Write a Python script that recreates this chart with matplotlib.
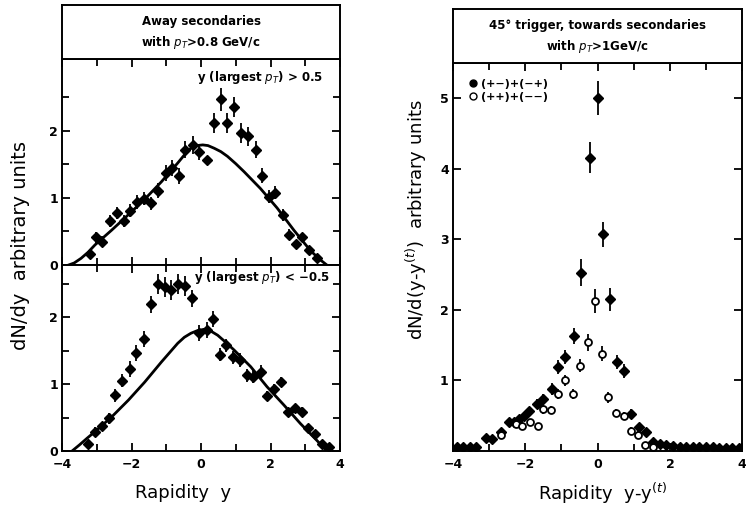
import matplotlib.pyplot as plt
from matplotlib.lines import Line2D
from matplotlib.ticker import MultipleLocator

plt.rcParams['font.family'] = ['DejaVu Sans']

# ---- left, upper panel: y(largest pT) > 0.5
top_x = [-3.19, -3.02, -2.84, -2.62, -2.41, -2.22, -2.03, -1.83, -1.64, -1.43, -1.24, -1.02,
         -0.83, -0.62, -0.46, -0.24, -0.05, 0.16, 0.38, 0.57, 0.76, 0.95, 1.14, 1.36, 1.57,
         1.76, 1.95, 2.14, 2.35, 2.54, 2.72, 2.92, 3.11, 3.33]
top_y = [0.17, 0.41, 0.35, 0.66, 0.77, 0.65, 0.81, 0.94, 0.99, 0.92, 1.11, 1.37,
         1.45, 1.32, 1.72, 1.79, 1.68, 1.57, 2.11, 2.47, 2.11, 2.36, 1.97, 1.92, 1.72,
         1.33, 1.02, 1.08, 0.75, 0.45, 0.31, 0.41, 0.22, 0.10]
top_err = [0.06, 0.08, 0.08, 0.09, 0.09, 0.09, 0.10, 0.10, 0.10, 0.10, 0.11, 0.12,
           0.12, 0.12, 0.13, 0.14, 0.12, 0.06, 0.15, 0.17, 0.15, 0.15, 0.15, 0.14, 0.13,
           0.11, 0.10, 0.10, 0.09, 0.08, 0.06, 0.07, 0.06, 0.05]
# theory curve
top_curve_x = [-3.81, -3.65, -3.45, -3.25, -3.05, -2.57, -2.09, -1.62, -1.14, -0.67, -0.48,
               -0.29, -0.12, 0.05, 0.20, 0.38, 0.57, 0.76, 1.00, 1.24, 1.71, 2.19, 2.67,
               3.14, 3.40, 3.62]
top_curve_y = [0.0, 0.03, 0.10, 0.19, 0.30, 0.52, 0.75, 0.98, 1.24, 1.52, 1.64,
               1.74, 1.78, 1.79, 1.78, 1.74, 1.69, 1.62, 1.51, 1.39, 1.14, 0.85, 0.52,
               0.22, 0.09, 0.0]

# ---- left, lower panel: y(largest pT) < -0.5
bot_x = [-3.26, -3.05, -2.86, -2.65, -2.48, -2.26, -2.05, -1.86, -1.64, -1.45, -1.24, -1.05,
         -0.86, -0.65, -0.46, -0.26, -0.05, 0.17, 0.35, 0.55, 0.73, 0.93, 1.11, 1.33, 1.51,
         1.73, 1.90, 2.11, 2.30, 2.50, 2.71, 2.91, 3.08, 3.29, 3.49, 3.67]
bot_y = [0.11, 0.29, 0.37, 0.49, 0.83, 1.05, 1.23, 1.47, 1.68, 2.19, 2.50, 2.45,
         2.41, 2.50, 2.46, 2.28, 1.76, 1.81, 1.98, 1.44, 1.58, 1.40, 1.36, 1.13, 1.11,
         1.18, 0.82, 0.92, 1.03, 0.58, 0.64, 0.59, 0.35, 0.25, 0.10, 0.06]
bot_err = [0.05, 0.07, 0.07, 0.08, 0.10, 0.10, 0.12, 0.12, 0.12, 0.13, 0.15, 0.15,
           0.15, 0.15, 0.15, 0.13, 0.12, 0.12, 0.12, 0.10, 0.10, 0.10, 0.10, 0.10, 0.10,
           0.10, 0.08, 0.08, 0.08, 0.07, 0.07, 0.07, 0.06, 0.05, 0.05, 0.04]
bot_curve_x = [-3.71, -3.50, -3.28, -3.05, -2.57, -2.09, -1.62, -1.14, -0.67, -0.48,
               -0.29, -0.10, 0.10, 0.29, 0.48, 0.70, 0.95, 1.43, 1.90, 2.38, 2.86, 3.33,
               3.62]
bot_curve_y = [0.0, 0.09, 0.19, 0.29, 0.51, 0.76, 1.03, 1.33, 1.61, 1.70,
               1.76, 1.80, 1.82, 1.79, 1.73, 1.63, 1.51, 1.26, 0.96, 0.69, 0.41, 0.16,
               0.0]

# ---- right panel: 45 deg trigger, towards secondaries
fill_x = [-3.90, -3.72, -3.54, -3.36, -3.09, -2.91, -2.68, -2.45, -2.32, -2.18, -2.04, -1.91,
          -1.68, -1.50, -1.27, -1.09, -0.91, -0.65, -0.47, -0.21, 0.00, 0.16, 0.35, 0.53,
          0.74, 0.93, 1.14, 1.34, 1.54, 1.72, 1.90, 2.08, 2.27, 2.45, 2.63, 2.81, 2.99,
          3.18, 3.36, 3.54, 3.72, 3.90]
fill_y = [0.05, 0.05, 0.05, 0.06, 0.19, 0.17, 0.27, 0.41, 0.41, 0.45, 0.49, 0.57,
          0.67, 0.74, 0.88, 1.19, 1.33, 1.63, 2.53, 4.16, 5.00, 3.07, 2.15, 1.26,
          1.14, 0.52, 0.34, 0.27, 0.13, 0.10, 0.08, 0.07, 0.06, 0.06, 0.05, 0.05, 0.05,
          0.05, 0.04, 0.04, 0.04, 0.04]
fill_err = [0.02, 0.02, 0.02, 0.02, 0.04, 0.04, 0.05, 0.05, 0.05, 0.05, 0.05, 0.06,
            0.07, 0.07, 0.08, 0.10, 0.10, 0.12, 0.19, 0.22, 0.24, 0.18, 0.16, 0.10,
            0.10, 0.07, 0.06, 0.05, 0.04, 0.02, 0.02, 0.02, 0.02, 0.02, 0.02, 0.02, 0.02,
            0.02, 0.02, 0.02, 0.02, 0.02]
open_x = [-2.68, -2.27, -2.09, -1.86, -1.65, -1.50, -1.29, -1.09, -0.91, -0.68, -0.48,
          -0.27, -0.07, 0.12, 0.30, 0.52, 0.73, 0.91, 1.11, 1.32, 1.52]
open_y = [0.22, 0.38, 0.36, 0.41, 0.35, 0.59, 0.58, 0.81, 1.00, 0.81, 1.21,
          1.54, 2.12, 1.38, 0.76, 0.54, 0.50, 0.29, 0.23, 0.09, 0.06]
open_err = [0.05, 0.05, 0.05, 0.05, 0.05, 0.06, 0.06, 0.07, 0.08, 0.07, 0.09,
            0.12, 0.17, 0.11, 0.08, 0.06, 0.06, 0.05, 0.05, 0.03, 0.03]

fig = plt.figure(figsize=(7.46, 5.11), dpi=100)


def style(ax):
    for s in ax.spines.values():
        s.set_linewidth(1.4)
    ax.tick_params(which='both', direction='in', top=True, right=True, width=1.3,
                   labelsize=9, pad=3)
    ax.tick_params(axis='x', pad=5)
    ax.tick_params(which='major', length=6)
    ax.tick_params(which='minor', length=5)
    for lab in ax.get_xticklabels() + ax.get_yticklabels():
        lab.set_fontweight('bold')


def header(rect, line1, line2):
    h = fig.add_axes(rect)
    h.set_xticks([])
    h.set_yticks([])
    for s in h.spines.values():
        s.set_linewidth(1.4)
    h.text(0.5, 0.70, line1, ha='center', va='center', fontsize=8.5, fontweight='bold',
           transform=h.transAxes)
    h.text(0.5, 0.30, line2, ha='center', va='center', fontsize=8.5, fontweight='bold',
           transform=h.transAxes)


pts = dict(fmt='D', color='black', ms=5, elinewidth=1.3, capsize=0)

# left upper
ax1 = fig.add_axes([0.0831, 0.4814, 0.3727, 0.4031])
ax1.errorbar(top_x, top_y, yerr=top_err, **pts)
ax1.plot(top_curve_x, top_curve_y, 'k-', lw=2)
ax1.set_xlim(-4, 4)
ax1.set_ylim(0, 3.07)
ax1.xaxis.set_major_locator(MultipleLocator(2))
ax1.xaxis.set_minor_locator(MultipleLocator(1))
ax1.set_yticks([0, 1, 2])
ax1.set_yticks([0.5, 1.5, 2.5], minor=True)
ax1.set_xticklabels([])
style(ax1)
ax1.text(0.94, 0.91, 'y (largest $p_T$) > 0.5', ha='right', va='center', fontsize=8.5,
         fontweight='bold', transform=ax1.transAxes)

# left lower
ax2 = fig.add_axes([0.0831, 0.1174, 0.3727, 0.3640])
ax2.errorbar(bot_x, bot_y, yerr=bot_err, **pts)
ax2.plot(bot_curve_x, bot_curve_y, 'k-', lw=2)
ax2.set_xlim(-4, 4)
ax2.set_ylim(0, 2.78)
ax2.xaxis.set_major_locator(MultipleLocator(2))
ax2.xaxis.set_minor_locator(MultipleLocator(1))
ax2.set_yticks([0, 1, 2])
ax2.set_yticks([0.5, 1.5, 2.5], minor=True)
style(ax2)
ax2.text(0.965, 0.935, 'y (largest $p_T$) < \u22120.5', ha='right', va='center',
         fontsize=8.5, fontweight='bold', transform=ax2.transAxes)

header([0.0831, 0.8845, 0.3727, 0.1057], 'Away secondaries', 'with $p_T$>0.8 GeV/c')

fig.text(0.027, 0.52, 'dN/dy  arbitrary units', rotation=90, ha='center', va='center',
         fontsize=14)
fig.text(0.245, 0.035, 'Rapidity  y', ha='center', va='center', fontsize=13)

# right panel
ax3 = fig.add_axes([0.6072, 0.1174, 0.3878, 0.7593])
ax3.errorbar(fill_x, fill_y, yerr=fill_err, **pts)
ax3.errorbar(open_x, open_y, yerr=open_err, xerr=0.06, fmt='o', mfc='white', mec='black',
             mew=1.3, color='black', ms=5, elinewidth=1.3, capsize=0)
ax3.set_xlim(-4, 4)
ax3.set_ylim(0, 5.5)
ax3.xaxis.set_major_locator(MultipleLocator(2))
ax3.xaxis.set_minor_locator(MultipleLocator(1))
ax3.set_yticks([1, 2, 3, 4, 5])
style(ax3)
handles = [Line2D([], [], ls='none', marker='o', color='black', ms=5),
           Line2D([], [], ls='none', marker='o', mfc='white', mec='black', ms=5)]
ax3.legend(handles, ['(+\u2212)+(\u2212+)', '(++)+(\u2212\u2212)'], loc='upper left',
           bbox_to_anchor=(0.02, 0.985), frameon=False, handlelength=0.8,
           handletextpad=0.3, labelspacing=0.3, prop={'size': 8, 'weight': 'bold'})

header([0.6072, 0.8767, 0.3878, 0.1057], '45\u00b0 trigger, towards secondaries',
       'with $p_T$>1GeV/c')

fig.text(0.558, 0.57, 'dN/d(y-y$^{(t)}$)  arbitrary units', rotation=90, ha='center',
         va='center', fontsize=13)
fig.text(0.808, 0.035, 'Rapidity  y-y$^{(t)}$', ha='center', va='center', fontsize=13)

fig.savefig('out.png', dpi=100)
